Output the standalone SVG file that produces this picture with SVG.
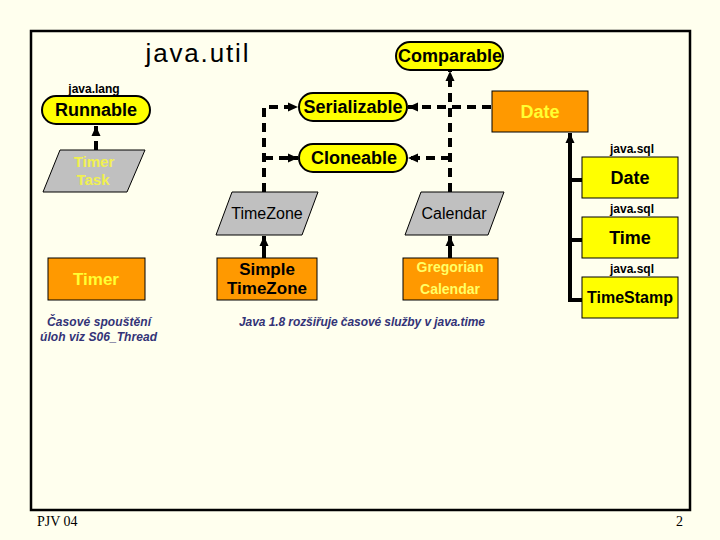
<svg xmlns="http://www.w3.org/2000/svg" width="720" height="540" viewBox="0 0 720 540">
<style>
text{font-family:"Liberation Sans",Arial,sans-serif;}
.pill{fill:#FFFF00;stroke:#000;stroke-width:2;}
.org{fill:#FF9900;stroke:#000;stroke-width:1;}
.yel{fill:#FFFF00;stroke:#000;stroke-width:1;}
.gray{fill:#C0C0C0;stroke:#000;stroke-width:1;}
.b18{font-size:18px;font-weight:bold;text-anchor:middle;fill:#000;}
.lbl{font-size:12px;font-weight:bold;text-anchor:middle;fill:#000;}
.note{font-size:12px;font-style:italic;font-weight:bold;fill:#333377;}
.dash{fill:none;stroke:#000;stroke-width:4;stroke-dasharray:9 6;}
.solid{fill:none;stroke:#000;stroke-width:4;}
</style>
<defs>
<marker id="ah" viewBox="0 0 10 10" refX="10" refY="5" markerWidth="10" markerHeight="10" markerUnits="userSpaceOnUse" orient="auto">
<path d="M0,0.5 L10,5 L0,9.5 Z" fill="#000"/>
</marker>
</defs>
<rect x="0" y="0" width="720" height="540" fill="#FFFFEE"/>
<rect x="31" y="31" width="659" height="479" fill="none" stroke="#000" stroke-width="2.5"/>

<text x="197" y="62" font-size="26" text-anchor="middle" textLength="103" lengthAdjust="spacing">java.util</text>

<g id="connectors">
<path class="dash" d="M96,150 V126" marker-end="url(#ah)"/>
<path class="dash" d="M264,192 V107 H298" marker-end="url(#ah)"/>
<path class="dash" d="M264,158 H298" marker-end="url(#ah)"/>
<path class="dash" d="M450,192 V71" marker-end="url(#ah)"/>
<path class="dash" d="M450,158 H408" marker-end="url(#ah)"/>
<path class="dash" d="M491,107 H408" marker-end="url(#ah)"/>
<path class="solid" d="M570,302 V133" marker-end="url(#ah)"/>
<path class="solid" d="M568,180 H582 M568,240 H582 M568,300 H582"/>
<path class="solid" d="M264,258 V236" marker-end="url(#ah)"/>
<path class="solid" d="M450,258 V236" marker-end="url(#ah)"/>
</g>

<g id="runnable">
<text x="94" y="93" class="lbl">java.lang</text>
<rect class="pill" x="42" y="96" width="108" height="28" rx="14"/>
<text x="96" y="116" class="b18">Runnable</text>
</g>
<g id="comparable">
<rect class="pill" x="396" y="42" width="107" height="28" rx="14"/>
<text x="450" y="62" class="b18">Comparable</text>
</g>
<g id="serializable">
<rect class="pill" x="299" y="93" width="108" height="28" rx="14"/>
<text x="353" y="113" class="b18">Serializable</text>
</g>
<g id="cloneable">
<rect class="pill" x="299" y="144" width="108" height="28" rx="14"/>
<text x="354" y="164" class="b18">Cloneable</text>
</g>
<g id="date">
<rect class="org" x="492" y="91" width="96" height="41"/>
<text x="540" y="118" class="b18" fill="#FFFF33" style="fill:#FFFF33">Date</text>
</g>
<g id="timertask">
<polygon class="gray" points="60,150 145,150 127,192 43,192"/>
<text x="94" y="167" font-size="15" font-weight="bold" text-anchor="middle" fill="#F0F050">Timer</text>
<text x="93" y="185" font-size="15" font-weight="bold" text-anchor="middle" fill="#F0F050">Task</text>
</g>
<g id="timezone">
<polygon class="gray" points="232,192 318,192 302,235 216,235"/>
<text x="267" y="219" font-size="16" text-anchor="middle">TimeZone</text>
</g>
<g id="calendar">
<polygon class="gray" points="421,192 504,192 488,235 405,235"/>
<text x="454" y="219" font-size="16" text-anchor="middle">Calendar</text>
</g>
<g id="sqldate">
<text x="632" y="153" class="lbl">java.sql</text>
<rect class="yel" x="582" y="157" width="96" height="41"/>
<text x="630" y="184" class="b18">Date</text>
</g>
<g id="sqltime">
<text x="632" y="213" class="lbl">java.sql</text>
<rect class="yel" x="582" y="217" width="96" height="41"/>
<text x="630" y="244" class="b18">Time</text>
</g>
<g id="sqltimestamp">
<text x="632" y="273" class="lbl">java.sql</text>
<rect class="yel" x="582" y="277" width="96" height="41"/>
<text x="630" y="303" font-size="16" font-weight="bold" text-anchor="middle">TimeStamp</text>
</g>
<g id="timer">
<rect class="org" x="48" y="258" width="97" height="42"/>
<text x="96" y="285" font-size="17" font-weight="bold" text-anchor="middle" fill="#FFFF33">Timer</text>
</g>
<g id="simpletimezone">
<rect class="org" x="217" y="258" width="100" height="42"/>
<text x="267" y="275" font-size="17" font-weight="bold" text-anchor="middle">Simple</text>
<text x="267" y="294" font-size="17" font-weight="bold" text-anchor="middle">TimeZone</text>
</g>
<g id="gregorian">
<rect class="org" x="403" y="258" width="95" height="42"/>
<text x="450" y="272" font-size="14" font-weight="bold" text-anchor="middle" fill="#FFFF66">Gregorian</text>
<text x="450" y="294" font-size="14" font-weight="bold" text-anchor="middle" fill="#FFFF66">Calendar</text>
</g>

<text x="47" y="326" class="note" textLength="104" lengthAdjust="spacing">Časové spouštění</text>
<text x="40" y="341" class="note" textLength="117" lengthAdjust="spacing">úloh viz S06_Thread</text>
<text x="239" y="326" class="note" textLength="246" lengthAdjust="spacing">Java 1.8 rozšiřuje časové služby v java.time</text>

<text x="37" y="526" font-family="Liberation Serif" style="font-family:'Liberation Serif',serif" font-size="14">PJV 04</text>
<text x="683" y="526" style="font-family:'Liberation Serif',serif" font-size="14" text-anchor="end">2</text>
</svg>
